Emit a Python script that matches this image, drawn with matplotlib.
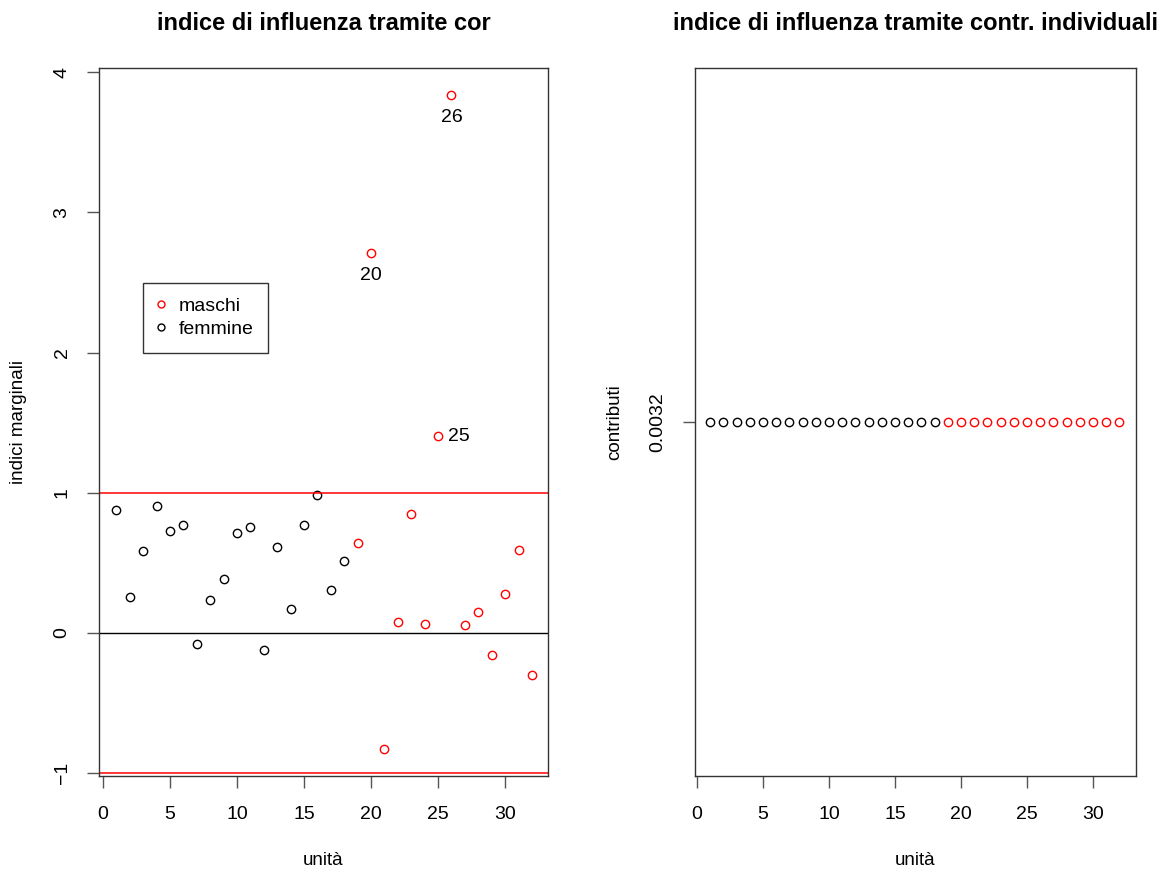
import numpy as np
import matplotlib.pyplot as plt

plt.rcParams['font.family'] = ['Liberation Sans', 'DejaVu Sans']

# unit index and marginal influence index
unita = np.arange(1, 33)
indici = [0.877, 0.259, 0.587, 0.905, 0.727, 0.772, -0.076, 0.233, 0.383, 0.711,
          0.753, -0.121, 0.611, 0.171, 0.772, 0.986, 0.304, 0.515, 0.639, 2.708,
          -0.829, 0.081, 0.850, 0.064, 1.404, 3.840, 0.055, 0.150, -0.157, 0.276,
          0.594, -0.299]
# sex of each unit: first 18 femmine, the rest maschi
sesso = ['F'] * 18 + ['M'] * 14
# individual contributions (all equal)
contributi = [0.0032] * 32
# labelled outliers and where the label goes
etichette = [(20, 'below'), (26, 'below'), (25, 'right')]

colori = ['red' if s == 'M' else 'black' for s in sesso]

fig = plt.figure(figsize=(11.71, 8.73), dpi=100)
W, H = 1171, 873

def pannello(x0, x1, y0, y1):
    return fig.add_axes([x0 / W, 1 - y1 / H, (x1 - x0) / W, (y1 - y0) / H])

def stile(ax):
    for s in ax.spines.values():
        s.set_linewidth(1.0)
        s.set_color('#333333')
    ax.tick_params(length=8.5, width=1.0, color='#555555', labelsize=14)
    ax.tick_params(axis='x', pad=13)
    ax.tick_params(axis='y', pad=12)
    for t in ax.get_yticklabels():
        t.set_rotation(90)
        t.set_va('center')

# ---- left panel
ax1 = pannello(99, 548, 68, 776)
for xi, yi, c in zip(unita, indici, colori):
    ax1.plot(xi, yi, 'o', ms=6, mfc='none', mec=c, mew=1.0)
ax1.axhline(1, color='red', lw=1.1)
ax1.axhline(-1, color='red', lw=1.1)
ax1.axhline(0, color='black', lw=1.0)
for u, pos in etichette:
    yv = indici[u - 1]
    if pos == 'below':
        ax1.annotate(str(u), (u, yv), xytext=(0, -10), textcoords='offset points',
                     ha='center', va='top', fontsize=14)
    else:
        ax1.annotate(str(u), (u, yv), xytext=(7, 0), textcoords='offset points',
                     ha='left', va='center', fontsize=14)
ax1.set_xlim(-0.3, 33.2)
ax1.set_ylim(-1.02, 4.03)
ax1.set_xticks([0, 5, 10, 15, 20, 25, 30])
ax1.set_yticks([-1, 0, 1, 2, 3, 4])
stile(ax1)
ax1.set_title('indice di influenza tramite cor', fontsize=17, fontweight='bold', pad=27)
ax1.set_xlabel('unità', fontsize=13.5, labelpad=21)
ax1.set_ylabel('indici marginali', fontsize=13.5, labelpad=19)

h_m, = ax1.plot([], [], 'o', ms=5, mfc='none', mec='red', mew=1.0, label='maschi')
h_f, = ax1.plot([], [], 'o', ms=5, mfc='none', mec='black', mew=1.0, label='femmine')
leg = ax1.legend(handles=[h_m, h_f], loc='upper left', bbox_to_anchor=(3.0, 2.5),
                 bbox_transform=ax1.transData, fontsize=14, frameon=True, fancybox=False,
                 borderpad=0.75, handlelength=0.36, handletextpad=0.7, labelspacing=0.3,
                 borderaxespad=0)
leg.get_frame().set_edgecolor('black')
leg.get_frame().set_linewidth(1.0)

# ---- right panel
ax2 = pannello(695, 1136, 68, 776)
for xi, yi, c in zip(unita, contributi, colori):
    ax2.plot(xi, yi, 'o', ms=6, mfc='none', mec=c, mew=1.0)
ax2.set_xlim(-0.15, 33.25)
ax2.set_ylim(0.0032 - 0.00128, 0.0032 + 0.00128)
ax2.set_xticks([0, 5, 10, 15, 20, 25, 30])
ax2.set_yticks([0.0032])
ax2.set_yticklabels(['0.0032'])
stile(ax2)
ax2.set_title('indice di influenza tramite contr. individuali', fontsize=17,
              fontweight='bold', pad=27)
ax2.set_xlabel('unità', fontsize=13.5, labelpad=21)
ax2.set_ylabel('contributi', fontsize=13.5, labelpad=19)

fig.savefig('out.png', dpi=100)
